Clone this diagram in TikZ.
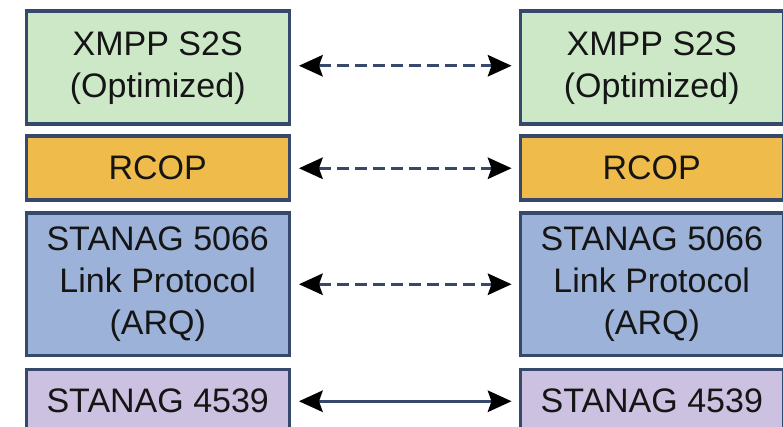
\documentclass[tikz,border=0pt]{standalone}
\usepackage{fontspec}
\setmainfont{Liberation Sans}
\usetikzlibrary{arrows.meta}
\definecolor{bordc}{HTML}{36496A}
\definecolor{gfill}{HTML}{CDE8C7}
\definecolor{ofill}{HTML}{EFBC4B}
\definecolor{bfill}{HTML}{9CB2D9}
\definecolor{pfill}{HTML}{CCC1E0}
\definecolor{txt}{HTML}{151515}
\tikzset{
  tiphead/.tip={Stealth[length=24pt,width=22pt,inset=4pt,color=black,line width=0pt]},
  layerbox/.style={draw=bordc, line width=3.5pt, anchor=north west, inner sep=0pt,
    minimum width=263pt, align=center, text=txt,
    font=\fontsize{34pt}{42pt}\selectfont},
  link/.style={draw=bordc, line width=3pt, tiphead-tiphead},
  dashlink/.style={link, dash pattern=on 12pt off 6pt},
}
\begin{document}
\begin{tikzpicture}[x=1pt,y=-1pt]
\useasboundingbox (0,0) rectangle (783,427);
\clip (0,0) rectangle (783,427);
% left stack
\node[layerbox, fill=gfill, minimum height=113pt] (L1) at (24.5,9.5) {XMPP S2S\\(Optimized)};
\node[layerbox, fill=ofill, minimum height=64pt] (L2) at (24.5,134.5) {RCOP};
\node[layerbox, fill=bfill, minimum height=142pt] (L3) at (24.5,211.5) {STANAG 5066\\Link Protocol\\(ARQ)};
\node[layerbox, fill=pfill, minimum height=64pt] (L4) at (24.5,367.5) {STANAG 4539};
% right stack
\node[layerbox, fill=gfill, minimum height=113pt] (R1) at (518.5,9.5) {XMPP S2S\\(Optimized)};
\node[layerbox, fill=ofill, minimum height=64pt] (R2) at (518.5,134.5) {RCOP};
\node[layerbox, fill=bfill, minimum height=142pt] (R3) at (518.5,211.5) {STANAG 5066\\Link Protocol\\(ARQ)};
\node[layerbox, fill=pfill, minimum height=64pt] (R4) at (518.5,367.5) {STANAG 4539};
% links
\draw[dashlink] ([xshift=8pt,yshift=2pt]L1.east) -- ([xshift=-7pt,yshift=2pt]R1.west);
\draw[dashlink] ([xshift=8pt]L2.east) -- ([xshift=-7pt]R2.west);
\draw[dashlink] ([xshift=8pt]L3.east) -- ([xshift=-7pt]R3.west);
\draw[link] ([xshift=8pt]L4.east) -- ([xshift=-7pt]R4.west);
\end{tikzpicture}
\end{document}
